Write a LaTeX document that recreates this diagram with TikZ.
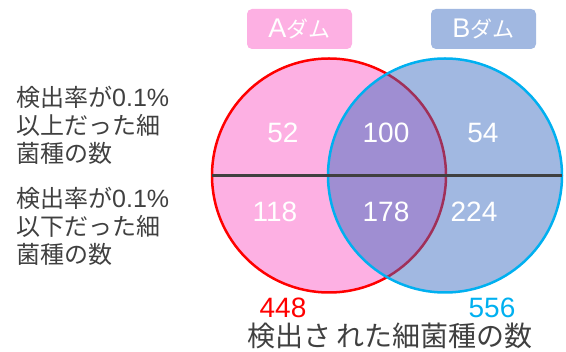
\documentclass[tikz,border=0pt]{standalone}
\usepackage{fontspec}
\setmainfont{Liberation Sans}
\newfontfamily\jp{Noto Sans CJK JP}
\definecolor{pinkf}{RGB}{253,176,227}
\definecolor{bluef}{RGB}{55,104,191}
\definecolor{bluebox}{RGB}{161,184,225}
\definecolor{cyanl}{RGB}{0,176,240}
\definecolor{txt}{RGB}{64,64,64}
\newcommand{\pct}{{\rmfamily\fontsize{25}{28}\selectfont 0.1\%}}
\tikzset{
  venn/.style={circle, inner sep=0pt, outer sep=0pt, minimum size=234pt, line width=2.5pt},
  num/.style={text=white, font=\fontsize{28}{28}\selectfont},
  tag/.style={rounded corners=5pt, minimum width=105pt, minimum height=40pt, inner sep=0pt, text=white},
  side/.style={text=txt, align=left, anchor=west, font=\jp\fontsize{24}{28}\selectfont, inner sep=0pt},
  total/.style={font=\fontsize{28}{28}\selectfont, inner sep=0pt},
}
\begin{document}
\begin{tikzpicture}[x=1pt,y=-1pt]
\useasboundingbox (0,0) rectangle (566,352);
\node[venn, fill=pinkf, draw=red] (A) at (329,175.5) {};
\node[venn, fill=bluef, fill opacity=0.47, draw=cyanl, draw opacity=1] (B) at (445,175.5) {};
\draw[txt, line width=2.5pt] (A.west) -- (B.east);
\node[num] (a1) at (283,133) {52};
\node[num] (ab1) at (386,133) {100};
\node[num] (b1) at (483,133) {54};
\node[num] (a2) at (275,212) {118};
\node[num] (ab2) at (386,212) {178};
\node[num] (b2) at (474,212) {224};
\node[tag, fill=pinkf] (ta) at (299.5,29) {\fontsize{27}{27}\selectfont A{\jp\fontsize{22}{22}\selectfont ダム}};
\node[tag, fill=bluebox] (tb) at (483.5,29) {\fontsize{27}{27}\selectfont B{\jp\fontsize{22}{22}\selectfont ダム}};
\node[side] (s1) at (16,125) {検出率が\pct\\以上だった細\\菌種の数};
\node[side] (s2) at (16,226) {検出率が\pct\\以下だった細\\菌種の数};
\node[total, text=red] (na) at (283,308) {448};
\node[total, text=cyanl] (nb) at (492,308) {556};
\node[text=txt, font=\jp\fontsize{28}{28}\selectfont, inner sep=0pt] (cap) at (390,336) {検出さ\hspace{6pt}れた細菌種の数};
\end{tikzpicture}
\end{document}
